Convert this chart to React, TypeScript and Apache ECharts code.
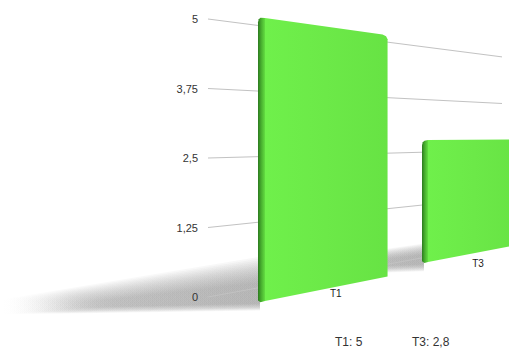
import React, { useEffect, useRef } from "react";
import * as echarts from "echarts";

// Chart data
const CATEGORIES = ["T1", "T3"];
const VALUES = [5, 2.8];
const Y_TICKS = [0, 1.25, 2.5, 3.75, 5];
const Y_MIN = 0;
const Y_MAX = 5;
const Y_INTERVAL = 1.25;

// Perspective layout: back wall box, vanishing point and per-bar depth
const WALL = { left: 208, top: 19, width: 294, height: 278 };
// bar slots: category 0 sits at the left edge, category 1 at the right edge
const BARS_BOX = { left: 258, top: 19, width: 164, height: 278 };
const VP: [number, number] = [1100, 134];
const PIVOT_Y = 120;
const BAR_DEPTH = [1.087, 1.038];
const BAR_WIDTH = [0.79, 0.6];
const SIDE_W = [7, 6];
const LABEL_DY = [7, 11];

const FONT = "'Liberation Sans', Arial, Helvetica, sans-serif";

const fmt = (v: number) => String(v).replace(".", ",");

// y of a wall point, given its flat y at the wall's left edge
const toWall = (x: number, fy: number) =>
  fy + ((VP[1] - fy) * (x - WALL.left)) / (VP[0] - WALL.left);

function barGeom(api: any, i: number) {
  const cat = api.value(0);
  const v = api.value(1);
  const [xL, fyTop] = api.coord([cat, v]);
  const fyBot = api.coord([cat, 0])[1];
  const band = api.size([1, 0])[0];
  const s = BAR_DEPTH[i];
  const w = band * BAR_WIDTH[i];
  const yTop = PIVOT_Y + (toWall(xL, fyTop) - PIVOT_Y) * s;
  const yBot = PIVOT_Y + (toWall(xL, fyBot) - PIVOT_Y) * s;
  const at = (y0: number, x: number) => y0 + ((VP[1] - y0) * (x - xL)) / (VP[0] - xL);
  return { xL, w, yTop, yBot, at, sw: SIDE_W[i] };
}

function lin(x2: number, y2: number, stops: [number, string][]) {
  return {
    type: "linear",
    x: 0,
    y: 0,
    x2,
    y2,
    colorStops: stops.map(([offset, color]) => ({ offset, color })),
  };
}

const mix = (a: number, b: number, t: number) => a + (b - a) * t;

export default function App() {
  const ref = useRef<HTMLDivElement>(null);

  useEffect(() => {
    if (!ref.current) return;
    const chart = echarts.init(ref.current, undefined, { renderer: "svg" });

    const option: any = {
      animation: false,
      backgroundColor: "#ffffff",
      grid: [
        { left: WALL.left, top: WALL.top, width: WALL.width, height: WALL.height },
        { left: BARS_BOX.left, top: BARS_BOX.top, width: BARS_BOX.width, height: BARS_BOX.height },
      ],
      xAxis: [
        { type: "category", data: CATEGORIES, gridIndex: 0, show: false },
        { type: "category", data: CATEGORIES, gridIndex: 1, show: false, boundaryGap: false },
      ],
      yAxis: [
        {
          type: "value",
          gridIndex: 0,
          z: 10,
          min: Y_MIN,
          max: Y_MAX,
          interval: Y_INTERVAL,
          axisLine: { show: false },
          axisTick: { show: false },
          splitLine: { show: false },
          axisLabel: {
            formatter: (v: number) => fmt(v),
            color: "#333333",
            fontSize: 11,
            fontFamily: FONT,
            margin: 10,
          },
        },
        {
          type: "value",
          gridIndex: 1,
          min: Y_MIN,
          max: Y_MAX,
          interval: Y_INTERVAL,
          show: false,
        },
      ],
      series: [
        // soft floor shadows cast to the left of each bar, built from feathered layers
        {
          type: "custom",
          xAxisIndex: 1,
          yAxisIndex: 1,
          z: 1,
          silent: true,
          data: VALUES.map((v, i) => [i, v]),
          renderItem: (params: any, api: any) => {
            const g = barGeom(api, params.dataIndex);
            const h = g.yBot - g.yTop;
            const L = h * 0.87;
            const outer = [
              [g.xL + 2, g.yBot - h * 0.16],
              [g.xL + 2, g.yBot + 8],
              [g.xL - L - 8, g.yBot + 12],
              [g.xL - L - 8, g.yBot - 3],
            ];
            const inner = [
              [g.xL + 2, g.yBot - h * 0.07],
              [g.xL + 2, g.yBot + 1],
              [g.xL - L * 0.75, g.yBot + 5],
              [g.xL - L * 0.75, g.yBot + 1],
            ];
            const N = 16;
            const children = [];
            for (let k = 0; k < N; k++) {
              const t = k / (N - 1);
              const pts = outer.map((p, j) => [mix(p[0], inner[j][0], t), mix(p[1], inner[j][1], t)]);
              children.push({
                type: "polygon",
                shape: { points: pts },
                style: {
                  fill: lin(1, 0, [
                    [0, "rgba(150,150,150,0)"],
                    [0.25, "rgba(150,150,150,0.055)"],
                    [1, "rgba(150,150,150,0.072)"],
                  ]),
                },
              });
            }
            return { type: "group", children };
          },
        },
        // receding grid lines on the back wall
        {
          type: "custom",
          xAxisIndex: 0,
          yAxisIndex: 0,
          z: 2,
          silent: true,
          data: Y_TICKS.map((t) => [0, t]),
          renderItem: (params: any, api: any) => {
            const fy = api.coord([0, api.value(1)])[1];
            const cs = params.coordSys;
            const x1 = cs.x;
            const x2 = cs.x + cs.width;
            return {
              type: "line",
              shape: { x1, y1: toWall(x1, fy), x2, y2: toWall(x2, fy) },
              style: { stroke: "#c2c2c2", lineWidth: 1 },
            };
          },
        },
        // bars drawn as slabs in perspective
        {
          type: "custom",
          xAxisIndex: 1,
          yAxisIndex: 1,
          z: 3,
          silent: true,
          data: VALUES.map((v, i) => [i, v]),
          renderItem: (params: any, api: any) => {
            const i = params.dataIndex;
            const g = barGeom(api, i);
            const { xL, w, yTop, yBot, at, sw } = g;
            const xF = xL + sw;
            const xR = xL + w;
            const r = 5;
            const side = [
              [xL, yTop + r],
              [xL + 0.8, yTop + 2],
              [xL + 2.5, yTop + 0.5],
              [xF, at(yTop, xF) - 0.3],
              [xF, at(yBot, xF)],
              [xL + 2.5, yBot - 0.2],
              [xL, yBot - 2],
            ];
            const front = [
              [xF, at(yTop, xF) - 0.3],
              [xR - r, at(yTop, xR - r)],
              [xR - 1.5, at(yTop, xR - 1.5) + 1.2],
              [xR, at(yTop, xR) + r * 0.8],
              [xR, at(yBot, xR)],
              [xF, at(yBot, xF)],
            ];
            const lx = xL + w * 0.6 - i * 3;
            const ly = at(yBot, lx) + LABEL_DY[i];
            return {
              type: "group",
              children: [
                {
                  type: "polygon",
                  shape: { points: side },
                  style: {
                    fill: lin(1, 0, [
                      [0, "#2c7a1f"],
                      [0.45, "#47ad2e"],
                      [1, "#63dd41"],
                    ]),
                  },
                },
                {
                  type: "polygon",
                  shape: { points: front },
                  style: {
                    fill: lin(1, 0, [
                      [0, "#6ff04b"],
                      [0.5, "#6ce948"],
                      [1, "#67e344"],
                    ]),
                  },
                },
                {
                  type: "text",
                  style: {
                    text: CATEGORIES[i],
                    x: lx,
                    y: ly,
                    fill: "#222222",
                    fontSize: 10,
                    fontFamily: FONT,
                    align: "center",
                    verticalAlign: "middle",
                  },
                },
              ],
            };
          },
        },
      ],
      graphic: CATEGORIES.map((c, i) => ({
        type: "text",
        x: 335 + i * 77,
        y: 342,
        style: {
          text: `${c}: ${fmt(VALUES[i])}`,
          fill: "#333333",
          fontSize: 12,
          fontFamily: FONT,
          verticalAlign: "middle",
        },
      })),
    };

    chart.setOption(option);
    return () => chart.dispose();
  }, []);

  return (
    <div
      ref={ref}
      style={{ position: "fixed", left: 0, top: 0, width: 509, height: 349 }}
    />
  );
}
